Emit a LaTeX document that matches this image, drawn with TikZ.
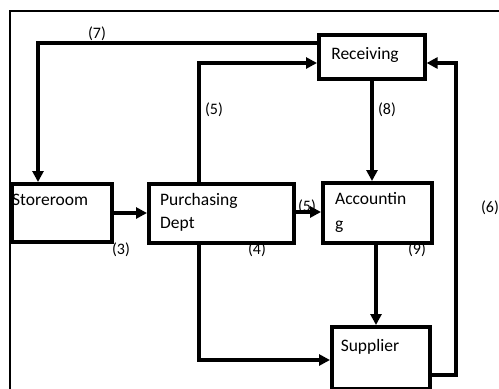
\documentclass[tikz,border=0pt]{standalone}
\usepackage{fontspec}
\setmainfont{Carlito}
\usetikzlibrary{arrows.meta}
\begin{document}
\begin{tikzpicture}[x=1pt,y=-1pt,
  box/.style={draw,line width=3.6pt,minimum width=#1,inner sep=0pt},
  boxtext/.style={inner sep=0pt,anchor=base west,font=\fontsize{17.5}{20}\selectfont},
  lbl/.style={inner sep=0pt,font=\fontsize{16}{19}\selectfont},
  conn/.style={line width=3.3pt,-{Triangle[length=11pt,width=11pt]}},
  plain/.style={line width=3.3pt}]
\useasboundingbox (0,0) rectangle (499,389);
% frame
\draw[line width=2.6pt] (10,389) -- (10,11) -- (499,11);
% boxes
\node[box=100pt,minimum height=58pt,anchor=north west] (sto) at (10,182) {};
\node[box=145pt,minimum height=59pt,anchor=north west] (pur) at (147,182) {};
\node[box=109pt,minimum height=60pt,anchor=north west] (acc) at (321,181) {};
\node[box=106pt,minimum height=44pt,anchor=north west] (rec) at (317,33) {};
\node[box=98pt,minimum height=62pt,anchor=north west] (sup) at (330,325) {};
% box texts
\node[boxtext] (tsto) at (12,205.5) {Storeroom};
\node[boxtext] (tpur1) at (160,205.5) {Purchasing};
\node[boxtext] (tpur2) at (160,228.5) {Dept};
\node[boxtext] (tacc1) at (335,204) {Accountin};
\node[boxtext] (tacc2) at (335,229) {g};
\node[boxtext,anchor=base] (trec) at (365,59) {Receiving};
\node[boxtext,anchor=base] (tsup) at (370,351) {Supplier};
% bend points
\coordinate (c7) at (38,43);
\coordinate (c5) at (199,63);
\coordinate (cps) at (199,360);
\coordinate (c6a) at (456,375);
\coordinate (c6b) at (456,63);
% connectors
\draw[conn] (rec.west |- c7) -- (c7) -- (sto.north -| c7);
\draw[conn] (pur.north -| c5) -- (c5) -- (rec.west |- c5);
\draw[conn] (rec.south -| 372,0) -- (acc.north -| 372,0);
\draw[conn] (sto.east |- 0,213) -- (pur.west |- 0,213);
\draw[conn] (pur.east |- 0,212) -- (acc.west |- 0,212);
\draw[conn] (acc.south -| 376,0) -- (sup.north -| 376,0);
\draw[conn] (pur.south -| cps) -- (cps) -- (sup.west |- cps);
\draw[conn] (sup.east |- c6a) -- (c6a) -- (c6b) -- (rec.east |- c6b);
% labels
\node[lbl] (l7) at (97,34) {(7)};
\node[lbl] (l5a) at (214,110) {(5)};
\node[lbl] (l8) at (387,110) {(8)};
\node[lbl] (l3) at (121,250) {(3)};
\node[lbl] (l5b) at (307,207) {(5)};
\node[lbl] (l4) at (257,250) {(4)};
\node[lbl] (l9) at (417,250) {(9)};
\node[lbl] (l6) at (490,208) {(6)};
\end{tikzpicture}
\end{document}
